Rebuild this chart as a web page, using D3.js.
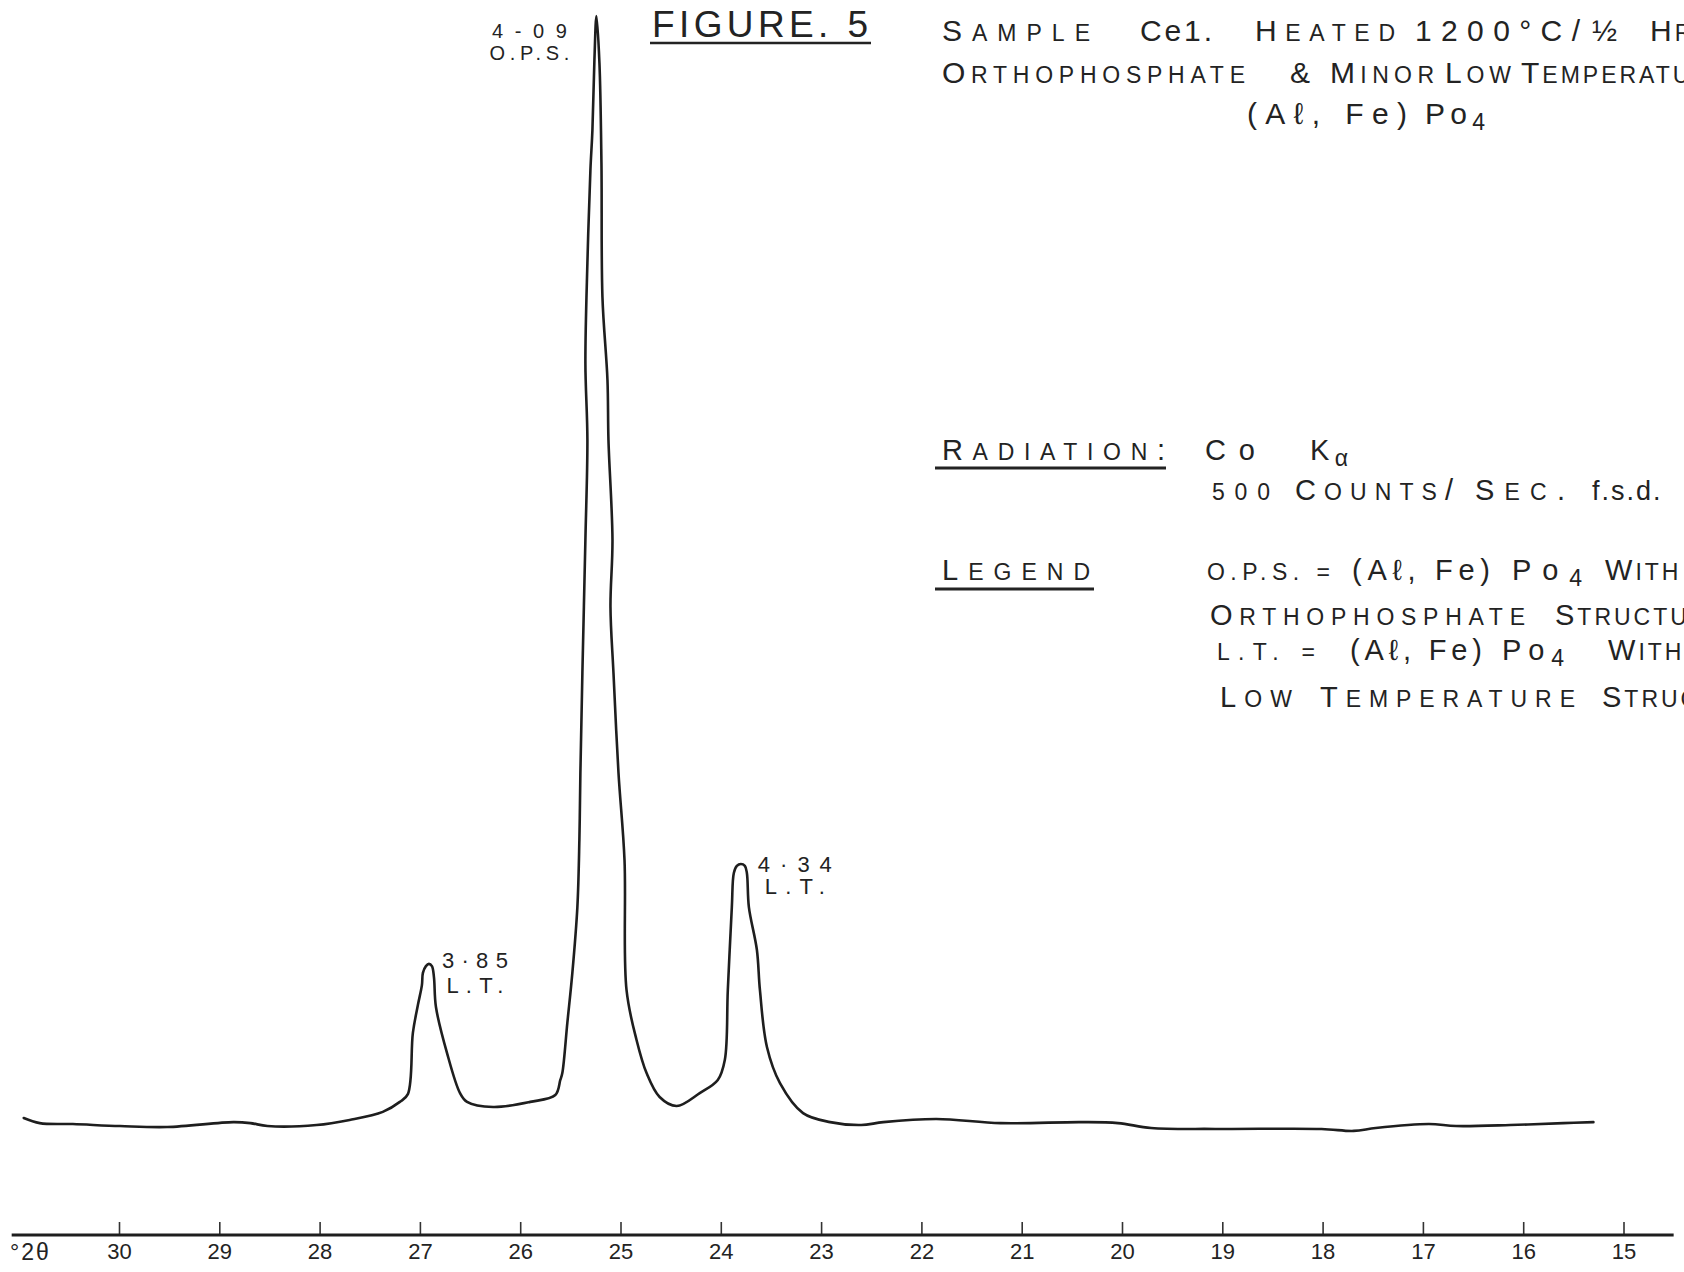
<!DOCTYPE html>
<html>
<head>
<meta charset="utf-8">
<script src="https://cdn.jsdelivr.net/npm/d3@7"></script>
<style>
  body { margin: 0; background: #fff; }
  svg text { font-family: "Liberation Sans", Arial, sans-serif; fill: #232323; }
</style>
</head>
<body>
<svg id="chart" width="1684" height="1272"></svg>
<script>
// diffractometer trace (2-theta in degrees, counts/sec)
const twoTheta = [30.95,30.79,30.46,29.99,29.52,28.86,28.69,28.52,28.03,27.70,27.37,27.20,27.12,27.07,27.02,26.98,26.97,26.94,26.91,26.88,26.86,26.84,26.73,26.60,26.53,26.27,25.90,25.65,25.60,25.58,25.53,25.48,25.43,25.41,25.40,25.38,25.35,25.33,25.35,25.33,25.30,25.28,25.26,25.24,25.21,25.19,25.18,25.13,25.12,25.08,25.10,25.07,25.02,24.96,24.94,24.84,24.74,24.61,24.44,24.21,24.03,23.96,23.93,23.89,23.87,23.84,23.80,23.76,23.74,23.72,23.64,23.61,23.54,23.41,23.18,22.91,22.60,22.38,21.85,21.21,20.41,20.04,19.71,19.07,18.01,17.69,17.47,16.94,16.67,16.13,15.60,15.30]
const counts = [48.0,45.9,45.5,44.7,44.3,46.3,45.9,44.7,45.1,47.2,50.5,54.6,57.8,82.9,94.3,102.5,107.5,110.3,111.2,110.3,105.8,93.5,74.7,58.2,54.6,52.5,54.6,57.4,63.6,66.4,87.0,107.5,134.5,162.0,189.5,230.5,285.1,326.1,357.7,398.7,436.8,453.2,482.0,500.0,480.7,439.7,384.7,350.7,326.1,285.1,257.6,230.5,189.5,153.8,100.5,80.0,66.4,56.6,52.9,58.2,63.6,71.8,100.5,134.5,148.5,151.4,152.2,151.4,148.5,134.5,116.9,100.5,77.1,62.3,50.0,46.3,45.1,46.3,47.6,45.9,46.3,45.9,43.9,43.5,43.5,42.7,43.9,45.5,44.7,45.1,45.9,46.3]

const tickValues = [30,29,28,27,26,25,24,23,22,21,20,19,18,17,16,15]
const axisExtent = [31.07, 14.5]

// peaks: position, d-spacing label, phase
const peakTheta = [26.91, 25.24, 23.80]
const peakCounts = [111.2, 500, 152.2]
const peakD = ["3·85", "4-09", "4·34"]
const peakPhase = ["L.T.", "O.P.S.", "L.T."]

const svg = d3.select("#chart")

const x = d3.scaleLinear().domain([30, 15]).range([119, 1623.5])
const y = d3.scaleLinear().domain([0, 500]).range([1235, 16])

// the trace
const line = d3.line()
  .x(i => x(twoTheta[i]))
  .y(i => y(counts[i]))
  .curve(d3.curveCatmullRom.alpha(0.5))

svg.append("path")
  .attr("d", line(d3.range(twoTheta.length)))
  .attr("fill", "none")
  .attr("stroke", "#1e1e1e")
  .attr("stroke-width", 2.6)
  .attr("stroke-linejoin", "round")
  .attr("stroke-linecap", "round")

// 2-theta axis, ticks pointing up
const axisG = svg.append("g")
  .attr("transform", "translate(0," + y(0) + ")")
  .call(d3.axisBottom(x)
    .tickValues(tickValues)
    .tickSizeInner(-13)
    .tickSizeOuter(0)
    .tickPadding(8)
    .tickFormat(d3.format("d")))

axisG.select(".domain").remove()
axisG.selectAll(".tick line").attr("stroke", "#333").attr("stroke-width", 1.6)
axisG.selectAll(".tick text")
  .attr("font-size", 22)
  .attr("fill", "#232323")
  .attr("font-family", "Liberation Sans, Arial, sans-serif")

axisG.append("line")
  .attr("x1", x(axisExtent[0]))
  .attr("x2", x(axisExtent[1]))
  .attr("stroke", "#1e1e1e")
  .attr("stroke-width", 3)

svg.append("text")
  .attr("x", 10).attr("y", y(0) + 25)
  .attr("font-size", 23)
  .attr("letter-spacing", 2)
  .text("°2θ")

// peak labels
const labelOffsets = [
  { dx: 46, dy1: 4, dy2: 29, size: 22, len1: 66, len2: 57 },
  { dx: -67, dy1: 22, dy2: 44, size: 20, len1: 75, len2: 80 },
  { dx: 54, dy1: 8, dy2: 30, size: 22, len1: 74, len2: 60 }
]
peakTheta.forEach((t, i) => {
  const o = labelOffsets[i]
  const cx = x(t) + o.dx, cy = y(peakCounts[i])
  svg.append("text")
    .attr("x", cx).attr("y", cy + o.dy1)
    .attr("text-anchor", "middle").attr("font-size", o.size)
    .attr("textLength", o.len1).attr("lengthAdjust", "spacing")
    .text(peakD[i])
  svg.append("text")
    .attr("x", cx).attr("y", cy + o.dy2)
    .attr("text-anchor", "middle").attr("font-size", o.size)
    .attr("textLength", o.len2).attr("lengthAdjust", "spacing")
    .text(peakPhase[i])
})

// lettering block: capitals full size, lower case drawn as small capitals
const N = s => ({ n: s })       // keep as written, lower case
const S = s => ({ s: s })       // small size
const R = s => ({ r: s })       // full size, untouched
const Sub = s => ({ sub: s })   // subscript

function txt(px, py, parts, big, len, spacing) {
  const small = Math.round(big * 0.78)
  if (typeof parts === "string") parts = [parts]
  const html = parts.map(p => {
    if (typeof p === "string")
      return p.replace(/[a-z]+/g, m => '<tspan font-size="' + small + '">' + m.toUpperCase() + '</tspan>')
    if (p.n) return '<tspan>' + p.n + '</tspan>'
    if (p.r) return '<tspan>' + p.r + '</tspan>'
    if (p.s) return '<tspan font-size="' + small + '">' + p.s + '</tspan>'
    return '<tspan font-size="' + small + '" dy="6">' + p.sub + '</tspan>'
  }).join("")
  const t = svg.append("text")
    .attr("x", px).attr("y", py)
    .attr("font-size", big)
  if (len) t.attr("textLength", len).attr("lengthAdjust", "spacing")
  else t.attr("letter-spacing", spacing == null ? 3 : spacing)
  t.html(html)
  return t
}
function rule(x1, x2, py, w) {
  svg.append("line")
    .attr("x1", x1).attr("x2", x2).attr("y1", py).attr("y2", py)
    .attr("stroke", "#232323").attr("stroke-width", w)
}
const aFe = ["(A", N("ℓ"), ", F", N("e"), ")"]
const po4 = ["P", N("o"), Sub("4")]

svg.append("text")
  .attr("x", 652).attr("y", 37).attr("font-size", 37)
  .attr("textLength", 216).attr("lengthAdjust", "spacing")
  .text("FIGURE. 5")
rule(650, 871, 43, 2.4)

txt(942, 41, "Sample", 30, 148)
txt(1140, 41, ["C", N("e"), "1."], 30, 72)
txt(1255, 41, "Heated", 30, 140)
txt(1415, 41, "1200°C/", 30, 165)
txt(1592, 41, "½", 30, 28)
txt(1650, 41, "Hr.", 30)

txt(942, 83, "Orthophosphate", 30, 303)
txt(1290, 83, [R("&amp;")], 30, 26)
txt(1330, 83, "Minor", 30, 104)
txt(1445, 83, "Low", 30, 66)
txt(1521, 83, "Temperature", 30)

txt(1247, 124, aFe, 30, 160)
txt(1425, 124, po4, 30, 60)

txt(942, 460, "Radiation:", 29, 223)
rule(935, 1166, 468, 3)
txt(1205, 460, ["C", N("o")], 29, 50)
txt(1310, 460, ["K", Sub("α")], 29, 38)
txt(1212, 500, [S("500")], 29, 58)
txt(1295, 500, "Counts/", 29, 158)
txt(1475, 500, "Sec.", 29, 90)
txt(1592, 500, [N("f.s.d.")], 27, null, 2)

txt(942, 580, "Legend", 29, 148)
rule(935, 1094, 589, 3)
txt(1207, 580, [S("O.P.S. =")], 29, 123)
txt(1352, 580, aFe, 29, 138)
txt(1512, 580, po4, 29, 70)
txt(1605, 580, "With", 29)
txt(1210, 625, "Orthophosphate", 29, 315)
txt(1555, 625, "Structure", 29)
txt(1217, 660, [S("L.T. =")], 29, 98)
txt(1350, 660, aFe, 29, 132)
txt(1502, 660, po4, 29, 62)
txt(1608, 660, "With", 29)
txt(1220, 707, "Low", 29, 72)
txt(1320, 707, "Temperature", 29, 255)
txt(1602, 707, "Structure", 29)
</script>
</body>
</html>
